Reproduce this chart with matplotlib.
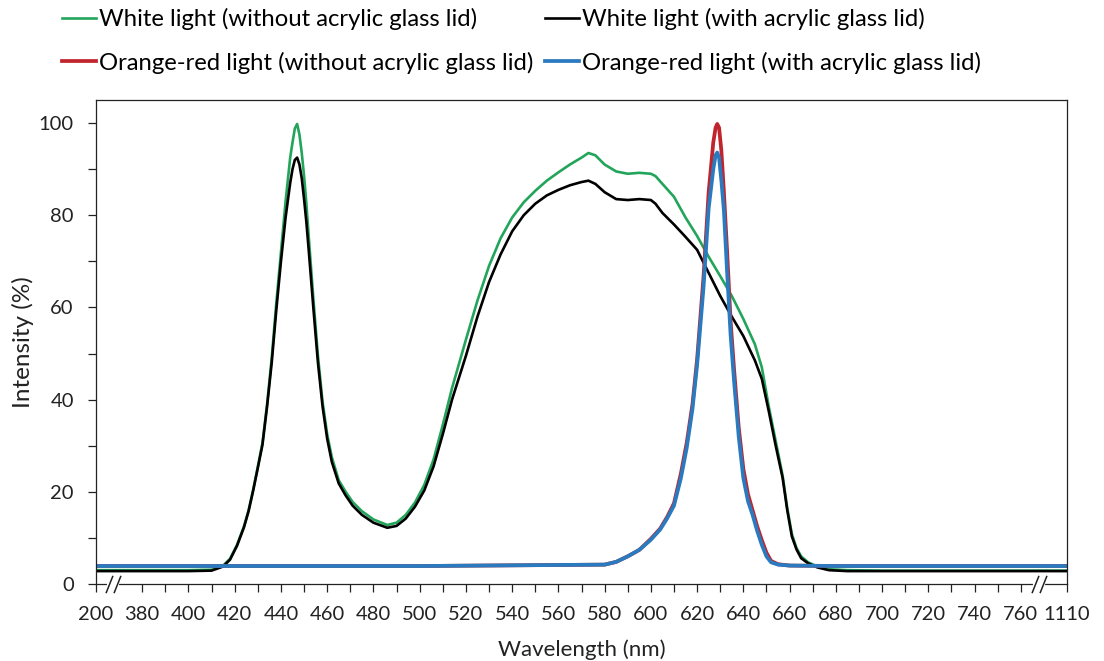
import numpy as np
import matplotlib
matplotlib.use('Agg')
import matplotlib.pyplot as plt
from matplotlib.lines import Line2D

plt.rcParams['font.family'] = ['Lato', 'DejaVu Sans']

# spectra, wavelength in nm / intensity in %
white_wl = [200, 380, 400, 410, 415, 418, 421, 424, 426, 428, 430, 432, 434, 436, 438,
            440, 442, 444, 445, 446, 447, 448, 449, 450, 451, 452, 454, 456, 458, 460,
            462, 465, 468, 471, 475, 480, 486, 490, 494, 498, 502, 506, 510, 514, 520,
            525, 530, 535, 540, 545, 550, 555, 560, 565, 570, 573, 576, 580, 585, 590,
            595, 600, 602, 605, 610, 615, 620, 625, 630, 635, 640, 645, 648, 651, 654,
            657, 659, 661, 663, 665, 668, 672, 677, 685, 700, 760, 1110]
white_open = [3.0, 3.0, 3.0, 3.1, 4.0, 5.5, 8.5, 12.5, 16.0, 20.5, 25.5, 30.6, 39.0, 49.0, 61.0,
              72.0, 83.0, 92.5, 95.8, 98.8, 99.8, 97.5, 93.5, 88.5, 82.5, 75.5, 62.0, 49.5, 39.5, 32.5,
              27.5, 22.5, 20.0, 17.8, 15.8, 14.0, 12.8, 13.3, 15.0, 17.7, 21.5, 27.0, 34.5, 42.5, 53.0,
              61.5, 69.0, 75.0, 79.5, 82.8, 85.3, 87.5, 89.3, 91.0, 92.5, 93.5, 93.0, 91.0, 89.5, 89.0,
              89.2, 89.0, 88.5, 86.8, 84.0, 79.5, 75.5, 71.0, 66.8, 62.5, 57.5, 52.0, 47.0, 38.5, 31.0,
              23.5, 16.5, 10.8, 7.8, 6.0, 4.7, 3.8, 3.2, 3.0, 2.9, 2.9, 2.9]
white_lid = [2.8, 2.8, 2.8, 2.9, 3.8, 5.3, 8.3, 12.3, 15.8, 20.3, 25.2, 30.2, 38.5, 48.0, 59.5,
             70.0, 79.5, 87.0, 90.0, 92.0, 92.5, 91.0, 88.0, 83.5, 78.5, 72.5, 60.0, 48.0, 38.5, 31.5,
             26.5, 21.8, 19.2, 17.0, 15.0, 13.3, 12.2, 12.6, 14.2, 16.8, 20.3, 25.5, 32.5, 40.0, 49.5,
             58.0, 65.5, 71.5, 76.5, 80.0, 82.5, 84.3, 85.5, 86.5, 87.2, 87.5, 86.8, 85.0, 83.5, 83.3,
             83.5, 83.3, 82.5, 80.5, 78.0, 75.3, 72.5, 67.5, 62.5, 58.0, 53.8, 48.5, 44.5, 37.5, 30.0,
             23.0, 16.0, 10.3, 7.5, 5.6, 4.5, 3.6, 3.0, 2.8, 2.8, 2.8, 2.8]

orange_wl = [200, 380, 500, 580, 585, 590, 595, 600, 604, 607, 610, 613, 615.5, 618, 620,
             622.8, 625, 627, 628, 628.7, 629.5, 630.5, 631.6, 633, 634.5, 636, 638, 640,
             642, 644, 646, 648, 650, 652, 655, 660, 680, 760, 1110]
orange_open = [3.9, 3.9, 3.9, 4.2, 4.8, 6.0, 7.4, 9.8, 12.0, 14.5, 17.5, 24.0, 30.6, 39.0, 48.7,
               66.8, 85.0, 95.8, 99.0, 99.8, 99.0, 94.0, 85.0, 72.0, 57.0, 46.5, 34.0, 25.0,
               19.5, 16.0, 12.5, 9.5, 6.8, 5.0, 4.3, 4.0, 3.9, 3.9, 3.9]
orange_lid = [3.9, 3.9, 3.9, 4.2, 4.8, 6.0, 7.4, 9.6, 11.8, 14.2, 17.0, 23.0, 29.5, 38.0, 47.5,
              64.5, 81.5, 90.0, 93.0, 93.6, 92.5, 87.5, 81.0, 67.5, 54.0, 44.0, 32.0, 23.0,
              18.0, 15.0, 11.5, 8.5, 6.0, 4.7, 4.2, 4.0, 3.9, 3.9, 3.9]

labels = ['White light (without acrylic glass lid)',
          'White light (with acrylic glass lid)',
          'Orange-red light (without acrylic glass lid)',
          'Orange-red light (with acrylic glass lid)']
colors = ['#22a55a', '#000000', '#c0252d', '#2a7abf']

major_ticks = [200] + list(range(380, 761, 20)) + [1110]
minor_ticks = list(range(390, 751, 20))


# broken x axis: 200-380 and 760-1110 squeezed into 20 units each
def fwd(w):
    return np.interp(w, [200, 380, 760, 1110], [360, 380, 760, 780])


def inv(u):
    return np.interp(u, [360, 380, 760, 780], [200, 380, 760, 1110])


fig = plt.figure(figsize=(11.04, 6.61), dpi=100)
ax = fig.add_axes([96 / 1104, 1 - 584 / 661, (1067 - 96) / 1104, (584 - 100) / 661])
ax.set_xscale('function', functions=(fwd, inv))

l1, = ax.plot(white_wl, white_open, color=colors[0], lw=1.9)
l2, = ax.plot(white_wl, white_lid, color=colors[1], lw=1.9)
l3, = ax.plot(orange_wl, orange_open, color=colors[2], lw=2.7)
l4, = ax.plot(orange_wl, orange_lid, color=colors[3], lw=2.7)

ax.set_xlim(200, 1110)
ax.set_ylim(0, 105)
ax.set_xticks(major_ticks)
ax.set_xticklabels([str(t) for t in major_ticks])
ax.set_xticks(minor_ticks, minor=True)
ax.set_yticks(range(0, 101, 20))
ax.set_yticks(range(10, 100, 20), minor=True)
ax.tick_params(which='both', direction='out', length=6, width=0.9, colors='#222222',
               labelsize=14.5)
ax.tick_params(axis='x', which='both', pad=10)
ax.tick_params(axis='y', which='both', pad=10)
for s in ax.spines.values():
    s.set_linewidth(0.9)
    s.set_color('#222222')

ax.set_xlabel('Wavelength (nm)', fontsize=16, color='#222222', labelpad=12)
ax.set_ylabel('Intensity (%)', fontsize=17.5, color='#222222', labelpad=3)

# axis break marks
xt = ax.get_xaxis_transform()
for a, b in [(250, 282), (868, 928)]:
    ax.plot([a, b], [0, 0], color='white', lw=3, transform=xt, clip_on=False, zorder=5)
    ax.plot([a, b], [0, 0], marker=[(-0.4, -1), (0.4, 1)], ms=12.5, mew=1.1,
            mec='#222222', ls='none', transform=xt, clip_on=False, zorder=6)

fig.legend([l1, l3, l2, l4], [labels[0], labels[2], labels[1], labels[3]],
           ncol=2, loc='upper left', bbox_to_anchor=(62 / 1104, 1 - 8 / 661),
           frameon=False, fontsize=17.2, handlelength=1.42, handletextpad=0.13,
           columnspacing=0.5, labelspacing=0.9, borderpad=0, borderaxespad=0)

fig.savefig('out.png', dpi=100)
